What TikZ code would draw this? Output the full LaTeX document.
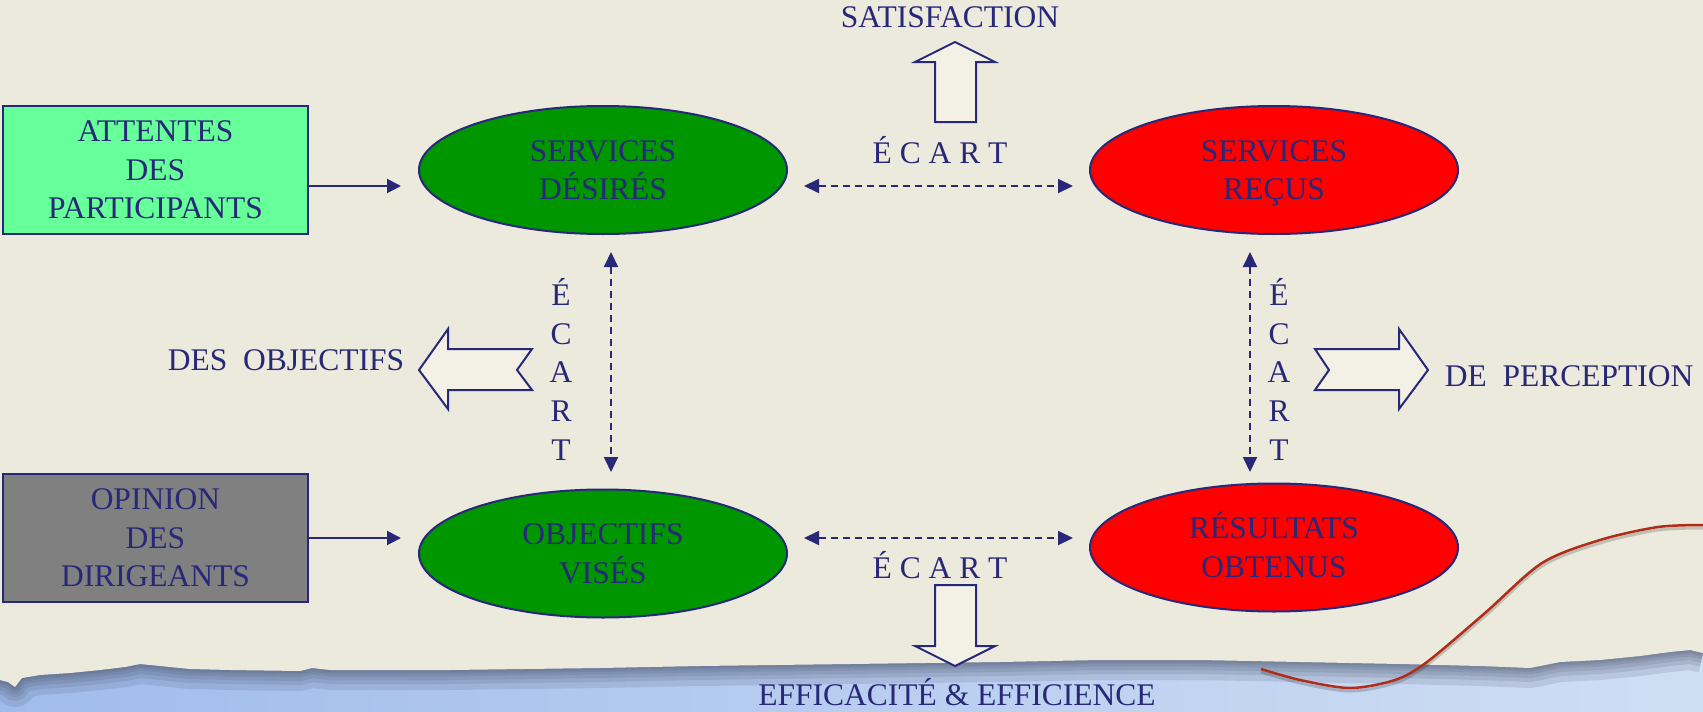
\documentclass[tikz,border=0pt]{standalone}
\usepackage{fontspec}
\setmainfont{Liberation Serif}
\usetikzlibrary{shapes.geometric,arrows.meta}
\definecolor{ink}{RGB}{40,40,120}
\definecolor{paper}{RGB}{236,233,221}
\definecolor{ellgreen}{RGB}{0,150,0}
\definecolor{ellred}{RGB}{255,0,0}
\definecolor{boxgreen}{RGB}{102,255,153}
\definecolor{boxgray}{RGB}{128,128,128}
\definecolor{arrowfill}{RGB}{243,241,230}
\definecolor{bluel}{RGB}{160,188,236}
\definecolor{bluer}{RGB}{208,222,243}
\definecolor{shadowc}{RGB}{80,90,115}
\definecolor{threadc}{RGB}{175,45,25}
\newcommand{\twolines}[2]{\rule{0pt}{30pt}#1\\#2\rule[-9.1pt]{0pt}{9.1pt}}
\newcommand{\threelines}[3]{\rule{0pt}{30pt}#1\\#2\\#3\rule[-9.1pt]{0pt}{9.1pt}}
\newcommand{\edgepts}{(0,680) (8,682) (15,687) (22,678) (40,675) (70,673) (100,670) (125,667) (140,664) (160,666) (190,669) (230,670) (300,671) (312,668) (330,670) (450,670) (600,668) (700,666) (850,664) (1000,662) (1100,660) (1200,660) (1300,662) (1400,664) (1480,666) (1530,668) (1560,662) (1600,660) (1640,656) (1670,652) (1690,650) (1703,653)}
\tikzset{
  txtstyle/.style={text=ink, font=\fontsize{31.5}{38.5}\selectfont, inner sep=0pt},
  lbl/.style={txtstyle, text height=20.9pt, text depth=0pt},
  ellnode/.style={ellipse, draw=ink, line width=2pt, minimum width=368pt, minimum height=128pt, inner sep=0pt, txtstyle, align=center},
  boxnode/.style={rectangle, draw=ink, line width=2pt, minimum width=305pt, minimum height=128pt, inner sep=0pt, txtstyle, align=center},
  linkarrow/.style={draw=ink, line width=2pt, -{Triangle[length=14pt,width=14pt]}},
  gaparrow/.style={draw=ink, line width=2pt, dash pattern=on 7pt off 5pt, {Triangle[length=15pt,width=14pt]}-{Triangle[length=15pt,width=14pt]}},
  blockarrow/.style={draw=ink, line width=2pt, fill=arrowfill, line join=miter},
  shadowband/.style={shadowc, opacity=.16, line join=round},
}
\begin{document}
\begin{tikzpicture}[x=1pt,y=-1pt]
\useasboundingbox (0,0) rectangle (1703,712);
% background: blue strip, torn paper
\shade[left color=bluel, right color=bluer] (0,0) rectangle (1703,712);
\draw[shadowband, line width=40pt] plot coordinates {\edgepts};
\draw[shadowband, line width=28pt] plot coordinates {\edgepts};
\draw[shadowband, line width=20pt] plot coordinates {\edgepts};
\draw[shadowband, line width=13pt] plot coordinates {\edgepts};
\draw[shadowband, line width=8pt] plot coordinates {\edgepts};
\draw[shadowband, line width=4pt] plot coordinates {\edgepts};
\fill[paper] plot coordinates {\edgepts} -- (1703,0) -- (0,0) -- cycle;
% thread
\draw[black, opacity=.18, line width=3pt, yshift=-3pt] plot[smooth] coordinates {(1261,669) (1300,680) (1350,688) (1395,680) (1427,662) (1485,613) (1542,563) (1600,540) (1658,527) (1703,525)};
\draw[threadc, line width=2.5pt] plot[smooth] coordinates {(1261,669) (1300,680) (1350,688) (1395,680) (1427,662) (1485,613) (1542,563) (1600,540) (1658,527) (1703,525)};

% boxes and ellipses
\node[boxnode, fill=boxgreen] (att) at (155.5,170) {\threelines{ATTENTES}{DES}{PARTICIPANTS}};
\node[boxnode, fill=boxgray] (opi) at (155.5,538) {\threelines{OPINION}{DES}{DIRIGEANTS}};
\node[ellnode, fill=ellgreen] (sd) at (603,170) {\twolines{SERVICES}{DÉSIRÉS}};
\node[ellnode, fill=ellred] (sr) at (1274,170) {\twolines{SERVICES}{REÇUS}};
\node[ellnode, fill=ellgreen] (ov) at (603,553.5) {\twolines{OBJECTIFS}{VISÉS}};
\node[ellnode, fill=ellred] (ro) at (1274,547.5) {\twolines{RÉSULTATS}{OBTENUS}};

% connectors
\draw[linkarrow] ([yshift=-16pt]att.east) -- ([xshift=-17pt,yshift=-16pt]sd.west);
\draw[linkarrow] (opi.east) -- ([xshift=-17pt,yshift=15.5pt]ov.west);
\draw[gaparrow] ([xshift=16pt,yshift=-16pt]sd.east) -- ([xshift=-16pt,yshift=-16pt]sr.west);
\draw[gaparrow] ([xshift=16pt,yshift=15.5pt]ov.east) -- ([xshift=-16pt,yshift=9.5pt]ro.west);
\draw[gaparrow] ([xshift=8pt,yshift=-17pt]sd.south) -- ([xshift=8pt,yshift=16.5pt]ov.north);
\draw[gaparrow] ([xshift=-24pt,yshift=-17pt]sr.south) -- ([xshift=-24pt,yshift=10.5pt]ro.north);

% block arrows
\draw[blockarrow] (935,122) -- (935,62) -- (915,62) -- (955,42) -- (995,62) -- (976,62) -- (976,122) -- cycle;
\draw[blockarrow] (935,585) -- (935,646) -- (915,646) -- (955,666) -- (995,646) -- (976,646) -- (976,585) -- cycle;
\draw[blockarrow] (419,370) -- (448,329) -- (448,349) -- (532,349) -- (517,370) -- (532,390) -- (448,390) -- (448,409) -- cycle;
\draw[blockarrow] (1428,370) -- (1399,329) -- (1399,349) -- (1315,349) -- (1329,370) -- (1315,390) -- (1399,390) -- (1399,409) -- cycle;

% labels
\node[lbl] (sat) at (950,17) {SATISFACTION};
\node[lbl] (ect) at (940,153) {É C A R T};
\node[lbl] (ecb) at (940,568) {É C A R T};
\node[lbl] (dob) at (286,360) {DES\ \ OBJECTIFS};
\node[lbl] (dpe) at (1569,376) {DE\ \ PERCEPTION};
\node[lbl] (eff) at (957,695) {EFFICACITÉ \& EFFICIENCE};
\foreach \l [count=\i from 0] in {É,C,A,R,T} {
  \node[lbl] (ecl\i) at (561,{295+38.7*\i}) {\l};
  \node[lbl] (ecr\i) at (1279,{295+38.7*\i}) {\l};
}
\end{tikzpicture}
\end{document}
